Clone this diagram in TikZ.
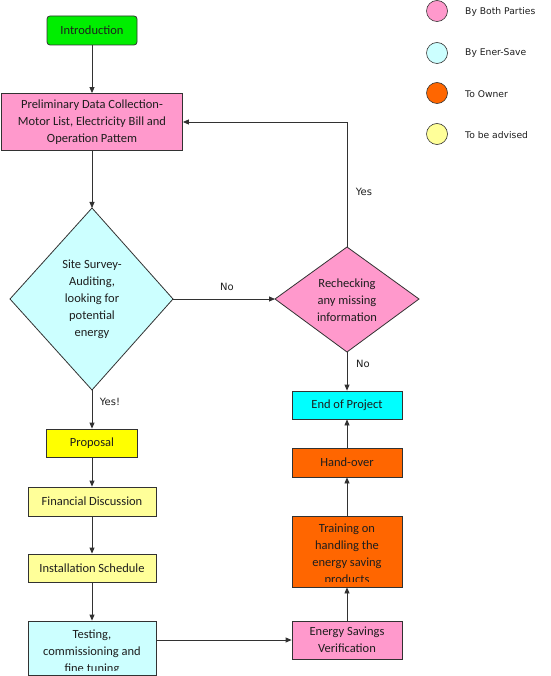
\documentclass[tikz,border=0pt]{standalone}
\usepackage{fontspec}
\setmainfont{Carlito}
\newfontfamily\legfont{DejaVu Sans}
\usetikzlibrary{arrows.meta,shapes.geometric}
\definecolor{cgreen}{RGB}{0,238,0}
\definecolor{cpink}{RGB}{255,153,204}
\definecolor{clcyan}{RGB}{204,255,255}
\definecolor{ccyan}{RGB}{0,255,255}
\definecolor{corange}{RGB}{255,102,0}
\definecolor{cyellow}{RGB}{255,255,0}
\definecolor{clyellow}{RGB}{255,255,153}
\definecolor{cline}{RGB}{50,50,50}
\definecolor{ctext}{RGB}{30,30,30}
\tikzset{
  box/.style={draw=cline, line width=0.8pt, inner sep=0pt, align=center, text=ctext,
    font=\fontsize{12.5}{17}\selectfont},
  dia/.style={draw=cline, line width=0.8pt},
  boxtext/.style={inner sep=0pt, align=center, text=ctext, font=\fontsize{12.5}{17}\selectfont},
  conn/.style={draw=cline, line width=0.8pt, -{Triangle[length=6pt,width=5pt]}},
  lbl/.style={inner sep=0pt, text=ctext, font=\legfont\fontsize{10}{12}\selectfont},
  legc/.style={circle, draw=cline, line width=0.6pt, minimum size=21pt, inner sep=0pt},
  legt/.style={inner sep=0pt, anchor=west, text=ctext, font=\legfont\fontsize{9.2}{10}\selectfont}
}
\begin{document}
\begin{tikzpicture}[x=1pt,y=-1pt]
\useasboundingbox (0,0) rectangle (550,676);
% left column
\node[box, fill=cgreen, rounded corners=3pt, minimum width=90pt, minimum height=29pt] (intro) at (92,30.5) {Introduction};
\node[box, fill=cpink, minimum width=181pt, minimum height=57pt] (prelim) at (92,122)
  {Preliminary Data Collection-\\Motor List, Electricity Bill and\\Operation Pattem};
\path[dia, fill=clcyan] (92,208) coordinate (sstop) -- (173,299) coordinate (sseast)
  -- (92,390) coordinate (sssouth) -- (10,299) coordinate (sswest) -- cycle;
\node[boxtext] (sstext) at (92,299) {Site Survey-\\Auditing,\\looking for\\potential\\energy};
\node[box, fill=cyellow, minimum width=91pt, minimum height=28pt] (prop) at (92,443) {Proposal};
\node[box, fill=clyellow, minimum width=128pt, minimum height=29pt] (fin) at (92,501.5) {Financial Discussion};
\node[box, fill=clyellow, minimum width=128pt, minimum height=28pt] (inst) at (92,568) {Installation Schedule};
\node[box, fill=clcyan, minimum width=128pt, minimum height=54pt] (test) at (92,648) {};
\begin{scope}
  \clip ([yshift=5pt]test.south west) rectangle (test.north east);
  \node[boxtext, anchor=north] (testtext) at ([yshift=-9pt]test.north) {Testing,\\commissioning and\\fine tuning};
\end{scope}
% right column
\path[dia, fill=cpink] (347,247) coordinate (rcnorth) -- (419,299) coordinate (rceast)
  -- (347,352) coordinate (rcsouth) -- (275,299) coordinate (rcwest) -- cycle;
\node[boxtext] (rctext) at (347,300) {Rechecking\\any missing\\information};
\node[box, fill=ccyan, minimum width=110pt, minimum height=28pt] (endp) at (347,405) {End of Project};
\node[box, fill=corange, minimum width=110pt, minimum height=29pt] (hand) at (347,462.5) {Hand-over};
\node[box, fill=corange, minimum width=110pt, minimum height=71pt] (train) at (347,551.5) {};
\begin{scope}
  \clip ([yshift=6pt]train.south west) rectangle (train.north east);
  \node[boxtext, anchor=north] (traintext) at ([yshift=-8pt]train.north) {Training on\\handling the\\energy saving\\products};
\end{scope}
\node[box, fill=cpink, minimum width=110pt, minimum height=38pt] (esv) at (347,640) {Energy Savings\\Verification};
% connectors
\draw[conn] (intro) -- (prelim);
\draw[conn] (prelim) -- (sstop);
\draw[conn] (sssouth) -- (prop);
\draw[conn] (prop) -- (fin);
\draw[conn] (fin) -- (inst);
\draw[conn] (inst) -- (test);
\draw[conn] (test.east |- esv.west) -- (esv.west);
\draw[conn] (esv) -- (train);
\draw[conn] (train) -- (hand);
\draw[conn] (hand) -- (endp);
\draw[conn] (rcsouth) -- (endp);
\draw[conn] (sseast) -- (rcwest);
\draw[conn] (rcnorth) |- (prelim.east);
% labels
\node[lbl] (lno1) at (227,287) {No};
\node[lbl] (lyes1) at (364,192) {Yes};
\node[lbl] (lno2) at (363,364) {No};
\node[lbl] (lyes2) at (110,402) {Yes!};
% legend
\node[legc, fill=cpink] (c1) at (437,11) {};
\node[legc, fill=clcyan] (c2) at (437,53) {};
\node[legc, fill=corange] (c3) at (437,93) {};
\node[legc, fill=clyellow] (c4) at (437,134) {};
\node[legt] (t1) at (465,12) {By Both Parties};
\node[legt] (t2) at (465,53) {By Ener-Save};
\node[legt] (t3) at (465,94) {To Owner};
\node[legt] (t4) at (465,135) {To be advised};
\end{tikzpicture}
\end{document}
